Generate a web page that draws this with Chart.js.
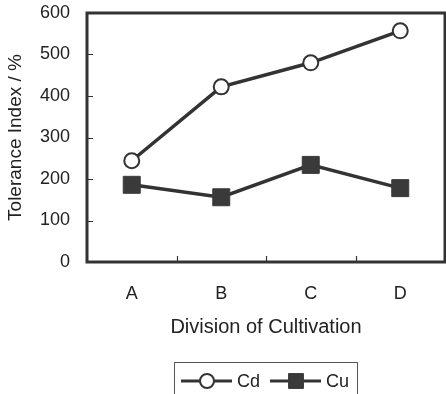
<!DOCTYPE html>
<html>
<head>
<meta charset="utf-8">
<script src="https://cdn.jsdelivr.net/npm/chart.js@4/dist/chart.umd.min.js"></script>
<style>
  html, body { margin: 0; padding: 0; background: #fff; }
  #wrap { width: 446px; height: 394px; }
</style>
</head>
<body>
<div id="wrap"><canvas id="chart"></canvas></div>
<script>
const divisions = ['A', 'B', 'C', 'D'];
const cdValues = [244, 422, 480, 557];
const cuValues = [186, 156, 234, 178];
const yTicks = [0, 100, 200, 300, 400, 500, 600];

const INK = '#333333';
const FONT = '"Liberation Sans", Arial, sans-serif';

// frame around the plot, short inward ticks, and the boxed legend underneath
const framePlugin = {
    id: 'frame',
    afterDraw(chart) {
        const { ctx, chartArea: a, scales } = chart;
        ctx.save();
        ctx.strokeStyle = INK;

        // inward tick marks
        ctx.lineWidth = 1.2;
        ctx.beginPath();
        yTicks.slice(1, -1).forEach(v => {
            const y = Math.round(scales.y.getPixelForValue(v)) + 0.5;
            ctx.moveTo(a.left, y);
            ctx.lineTo(a.left + 6, y);
        });
        for (let i = 0; i < divisions.length - 1; i++) {
            const x = Math.round((scales.x.getPixelForValue(i) + scales.x.getPixelForValue(i + 1)) / 2) + 0.5;
            ctx.moveTo(x, a.bottom);
            ctx.lineTo(x, a.bottom - 6);
        }
        ctx.stroke();

        ctx.lineWidth = 3;
        ctx.strokeRect(a.left, a.top, a.right - a.left, a.bottom - a.top);

        // legend
        ctx.lineWidth = 1;
        ctx.strokeStyle = '#555';
        ctx.strokeRect(174.5, 362.5, 183, 40);

        const cy = 381;
        const items = [
            { x0: 181, ds: chart.data.datasets[0], r: 7 },
            { x0: 270, ds: chart.data.datasets[1], r: 10.5 }
        ];
        items.forEach(({ x0, ds, r }) => {
            ctx.strokeStyle = INK;
            ctx.lineWidth = 3;
            ctx.beginPath();
            ctx.moveTo(x0, cy);
            ctx.lineTo(x0 + 51, cy);
            ctx.stroke();
            ctx.fillStyle = ds.pointBackgroundColor;
            ctx.strokeStyle = ds.pointBorderColor;
            ctx.lineWidth = ds.pointBorderWidth;
            Chart.helpers.drawPoint(ctx, {
                pointStyle: ds.pointStyle,
                radius: r,
                rotation: 0,
                borderWidth: ds.pointBorderWidth
            }, x0 + 26, cy);
            ctx.fillStyle = '#222';
            ctx.font = '18px ' + FONT;
            ctx.textBaseline = 'middle';
            ctx.textAlign = 'left';
            ctx.fillText(ds.label, x0 + 56, cy + 1);
        });
        ctx.restore();
    }
};

new Chart(document.getElementById('chart'), {
    type: 'line',
    data: {
        labels: divisions,
        datasets: [
            {
                label: 'Cd',
                data: cdValues,
                borderColor: INK,
                borderWidth: 3.5,
                pointStyle: 'circle',
                pointRadius: 7.5,
                pointBackgroundColor: '#ffffff',
                pointBorderColor: INK,
                pointBorderWidth: 2,
                tension: 0
            },
            {
                label: 'Cu',
                data: cuValues,
                borderColor: INK,
                borderWidth: 3.5,
                pointStyle: 'rect',
                pointRadius: 12,
                pointBackgroundColor: '#3a3a3a',
                pointBorderColor: '#3a3a3a',
                pointBorderWidth: 1,
                tension: 0
            }
        ]
    },
    options: {
        responsive: true,
        maintainAspectRatio: false,
        animation: false,
        events: [],
        layout: { autoPadding: false, padding: { top: 13, right: 1, bottom: 52, left: 0 } },
        plugins: {
            legend: { display: false },
            tooltip: { enabled: false }
        },
        scales: {
            x: {
                offset: true,
                grid: { display: false, drawTicks: false },
                border: { display: false },
                ticks: { color: '#222', font: { family: FONT, size: 18 }, padding: 21 },
                title: {
                    display: true,
                    text: 'Division of Cultivation',
                    color: '#222',
                    font: { family: FONT, size: 20 },
                    padding: { top: 3, bottom: 3 }
                },
                afterFit(scale) {
                    scale.height = 80;
                    scale.paddingLeft = 0;
                    scale.paddingRight = 0;
                }
            },
            y: {
                min: 0,
                max: 600,
                afterBuildTicks(scale) { scale.ticks = yTicks.map(v => ({ value: v })); },
                grid: { display: false, drawTicks: false },
                border: { display: false },
                ticks: { color: '#222', font: { family: FONT, size: 18 }, padding: 17 },
                title: {
                    display: true,
                    text: 'Tolerance Index / %',
                    color: '#222',
                    font: { family: FONT, size: 19 },
                    padding: { top: 4, bottom: 4 }
                },
                afterFit(scale) {
                    scale.width = 87;
                    scale.paddingTop = 0;
                    scale.paddingBottom = 0;
                }
            }
        }
    },
    plugins: [framePlugin]
});
</script>
</body>
</html>
